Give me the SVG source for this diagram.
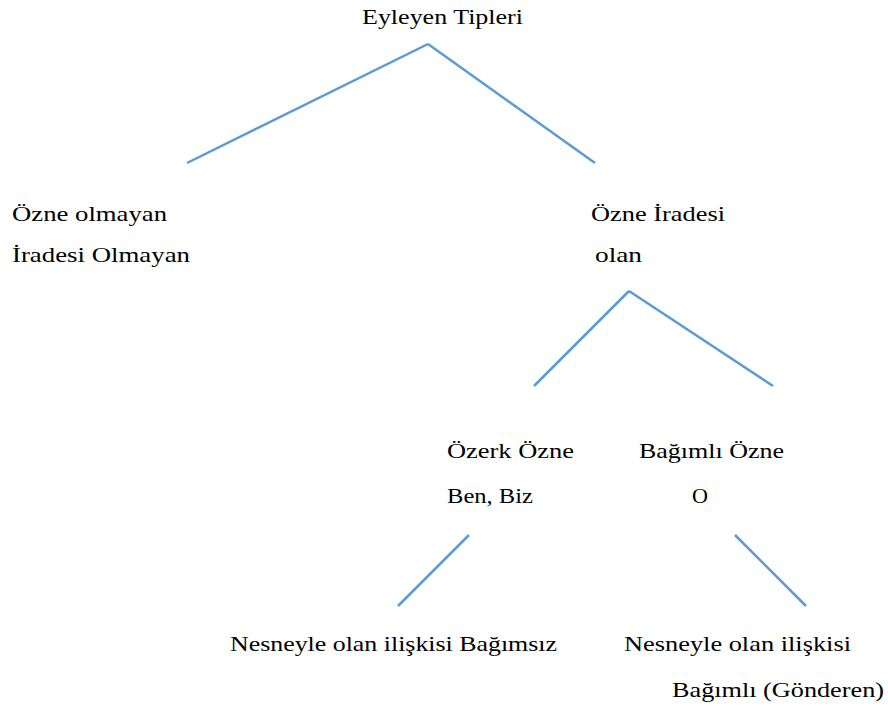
<svg xmlns="http://www.w3.org/2000/svg" width="888" height="715" viewBox="0 0 888 715">
<style>
text{font-family:"Liberation Serif","Times New Roman",serif;font-size:21px;fill:#000}
.c line{stroke:#5B9BD5;stroke-width:2.5;stroke-linecap:butt}
</style>
<rect width="888" height="715" fill="#fff"/>
<g class="c" id="connectors">
<line x1="428" y1="44" x2="187" y2="163"/>
<line x1="428" y1="44" x2="595" y2="163"/>
<line x1="629" y1="291" x2="534" y2="386"/>
<line x1="629" y1="291" x2="773" y2="386"/>
<line x1="469" y1="535" x2="398" y2="606"/>
<line x1="735" y1="535" x2="806" y2="606"/>
</g>
<g id="root"><text x="362" y="24" textLength="161" lengthAdjust="spacingAndGlyphs">Eyleyen Tipleri</text></g>
<g id="n-olmayan">
<text x="12" y="221" textLength="155" lengthAdjust="spacingAndGlyphs">Özne olmayan</text>
<text x="12" y="262" textLength="178" lengthAdjust="spacingAndGlyphs">İradesi Olmayan</text>
</g>
<g id="n-olan">
<text x="591" y="221" textLength="134" lengthAdjust="spacingAndGlyphs">Özne İradesi</text>
<text x="595" y="262" textLength="47" lengthAdjust="spacingAndGlyphs">olan</text>
</g>
<g id="n-ozerk">
<text x="447" y="458" textLength="127" lengthAdjust="spacingAndGlyphs">Özerk Özne</text>
<text x="447" y="503" textLength="86" lengthAdjust="spacingAndGlyphs">Ben, Biz</text>
</g>
<g id="n-bagimli">
<text x="639" y="458" textLength="145" lengthAdjust="spacingAndGlyphs">Bağımlı Özne</text>
<text x="692" y="503" textLength="16" lengthAdjust="spacingAndGlyphs">O</text>
</g>
<g id="n-bagimsiz"><text x="230" y="651" textLength="327" lengthAdjust="spacingAndGlyphs">Nesneyle olan ilişkisi Bağımsız</text></g>
<g id="n-gonderen">
<text x="624" y="651" textLength="227" lengthAdjust="spacingAndGlyphs">Nesneyle olan ilişkisi</text>
<text x="672" y="697" textLength="212" lengthAdjust="spacingAndGlyphs">Bağımlı (Gönderen)</text>
</g>
</svg>
